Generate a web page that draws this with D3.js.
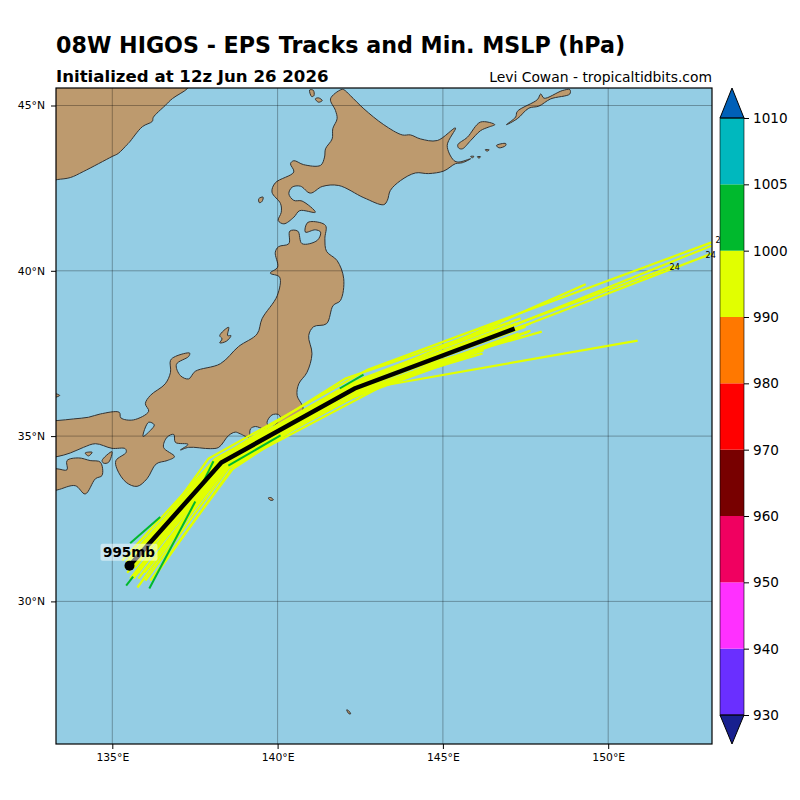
<!DOCTYPE html>
<html>
<head>
<meta charset="utf-8">
<script src="https://d3js.org/d3.v7.min.js"></script>
<style>
  body { margin: 0; background: #fff; }
  text { font-family: "DejaVu Sans", sans-serif; }
</style>
</head>
<body>
<div id="chart"></div>
<script>
// coastlines, lon/lat
var russia = [[137.27,45.51],[136.82,45.21],[136.60,45],[136.24,44.64],[136.21,44.52],[135.91,44.36],[135.51,43.88],[135.45,43.82],[135.18,43.55],[135,43.46],[134.12,43],[133.73,42.82],[133.34,42.76],[132.9,42.7],[132.9,45.7],[137.4,45.7]];
var hokkaido = [[141.92,45.48],[141.60,45.20],[141.75,44.85],[141.80,44.60],[141.67,44.30],[141.65,43.99],[141.45,43.69],[141.42,43.44],[141.30,43.19],[140.79,43.21],[140.49,43.33],[140.39,43.24],[140.49,42.99],[139.93,42.66],[139.83,42.38],[140.09,42.03],[140.11,41.77],[140.02,41.52],[140.19,41.42],[140.49,41.62],[140.67,41.82],[141.14,41.77],[140.74,42.11],[140.49,42.13],[140.34,42.33],[140.44,42.53],[140.69,42.56],[140.99,42.35],[141.35,42.55],[141.85,42.58],[142.61,42.21],[143.21,42],[143.32,42.13],[143.41,42.43],[143.72,42.73],[144.17,42.96],[144.57,42.94],[145.03,43.02],[145.38,43.24],[145.59,43.27],[145.84,43.39],[145.48,43.29],[145.33,43.34],[145.13,43.79],[145.38,44.32],[144.83,43.94],[144.32,43.99],[144.02,44.11],[143.77,44.11],[143.21,44.42],[142.61,44.90],[142.20,45.30],[142,45.48]];
var honshu = [[140.84,41.17],[140.89,41.44],[141.04,41.49],[141.45,41.37],[141.43,40.97],[141.48,40.59],[141.80,40.31],[142,39.76],[141.90,39.10],[141.68,38.95],[141.48,38.40],[141.09,38.31],[140.94,38.04],[141.04,37.49],[140.89,36.93],[140.64,36.58],[140.59,36.23],[140.77,35.83],[140.54,35.53],[140.18,35.20],[139.93,35.11],[139.87,35.27],[140.09,35.53],[140.03,35.65],[139.83,35.64],[139.68,35.42],[139.73,35.27],[139.58,35.22],[139.33,35.29],[139.18,35.22],[139.13,34.97],[138.87,35.07],[138.72,35.12],[138.52,35.02],[138.22,34.66],[137.97,34.62],[137.31,34.66],[137.06,34.58],[137.29,34.75],[136.91,34.81],[136.86,35.05],[136.66,34.97],[136.55,34.66],[136.88,34.38],[136.66,34.26],[136.33,34.16],[136.05,33.71],[135.75,33.48],[135.42,33.60],[135.14,34.01],[135.11,34.26],[135.42,34.51],[135.39,34.62],[134.99,34.63],[134.49,34.77],[134.13,34.66],[133.73,34.49],[133.33,34.38],[132.9,34.35],[132.9,35.45],[133.33,35.47],[133.83,35.52],[134.28,35.57],[134.64,35.67],[135.21,35.72],[135.26,35.55],[135.64,35.49],[136.10,35.75],[136,35.98],[136.15,36.23],[136.60,36.58],[136.76,36.93],[136.76,37.29],[136.91,37.41],[137.34,37.51],[137.31,37.41],[136.94,37.17],[137.06,36.83],[137.31,36.73],[137.51,36.96],[138.27,37.19],[138.82,37.71],[139.38,38.09],[139.53,38.55],[139.99,39.25],[140.06,39.81],[139.78,39.93],[140,40.11],[139.93,40.56],[140.03,40.73],[140.34,40.82],[140.37,41.20],[140.61,41.20],[140.74,40.82],[141.20,40.92],[141.30,41.17],[141.14,41.24]];
var shikoku = [[132.9,34.0],[133.33,34.01],[133.63,33.98],[133.63,34.26],[133.98,34.34],[134.33,34.26],[134.64,34.21],[134.69,33.81],[134.49,33.71],[134.18,33.25],[133.88,33.50],[133.33,33.37],[132.9,33.3]];
var kunashir = [[145.45,43.81],[145.74,44.04],[146.14,44.50],[146.57,44.42],[146.39,44.35],[146.14,44.24],[145.84,43.94],[145.59,43.69],[145.48,43.71]];
var iturup = [[146.92,44.42],[147.20,44.65],[147.25,44.82],[147.86,45.18],[147.96,45.35],[148.06,45.22],[148.61,45.45],[148.84,45.48],[148.84,45.35],[148.26,45.20],[147.90,44.98],[147.60,44.92],[147.25,44.60]];
var smallIslands = [
  [[140.97,45.47],[141.08,45.46],[141.10,45.30],[141.03,45.27]],
  [[141.14,45.20],[141.24,45.23],[141.35,45.15],[141.24,45.10]],
  [[139.43,42.18],[139.56,42.23],[139.53,42.10],[139.45,42.06]],
  [[146.62,43.79],[146.90,43.85],[146.90,43.79],[146.70,43.72]],
  [[145.84,43.46],[145.94,43.46],[145.89,43.42]],
  [[146.04,43.45],[146.14,43.45],[146.09,43.41]],
  [[146.28,43.66],[146.40,43.66],[146.34,43.62]],
  [[138.25,38.04],[138.52,38.29],[138.49,38.04],[138.59,38.04],[138.45,37.87],[138.25,37.82],[138.32,37.94]],
  [[134.69,34.26],[134.99,34.53],[134.89,34.21],[134.74,34.18]],
  [[134.18,34.49],[134.39,34.51],[134.28,34.40]],
  [[133.2,36.29],[133.41,36.23],[133.2,36.17]],
  [[139.72,33.13],[139.80,33.14],[139.87,33.07],[139.78,33.06]],
  [[142.09,26.72],[142.14,26.70],[142.21,26.60],[142.16,26.60]]
];
var lakes = [[[136.10,35.42],[136.27,35.34],[136.15,35.17],[135.93,34.99]]];

// ensemble members
var yellowTracks = [
  [[135.48,30.93],[137.91,34.32],[142.72,37.01],[153.13,40.86]],
  [[135.54,31.24],[138.09,34.26],[142.36,36.53],[146.14,38.19],[149.32,39.59]],
  [[135.85,30.78],[138.42,34.11],[142.51,36.53],[146.74,38.19],[153.13,40.76]],
  [[136.00,30.63],[138.51,34.02],[142.20,36.32],[153.13,40.52]],
  [[136.30,30.78],[138.57,33.96],[142.05,36.23],[147.35,38.44],[152.01,40.16]],
  [[136.15,30.63],[138.72,34.11],[142.81,36.68],[147.99,38.16]],
  [[135.76,30.42],[138.33,33.96],[143.20,36.53],[150.89,37.89]],
  [[135.54,30.69],[138.21,34.08],[142.96,36.53],[146.20,37.50]],
  [[135.61,31.18],[138.21,34.32],[142.20,36.59],[147.65,38.41]],
  [[135.45,30.87],[138.39,34.08],[142.45,36.32],[147.59,38.16]],
  [[135.70,31.05],[138.30,34.38],[142.05,36.74],[147.35,38.56]],
  [[135.79,30.87],[138.45,34.26],[142.66,36.38],[146.74,37.89]],
  [[135.48,31.30],[138.03,34.11],[142.57,36.74],[147.05,38.44]],
  [[135.64,30.69],[138.18,33.96],[142.20,36.14],[146.23,37.60]],
  [[135.64,31.00],[138.39,34.29],[142.39,36.59],[147.23,38.41]],
  [[135.42,31.18],[138.21,34.17],[142.26,36.29],[147.29,38.10]],
  [[135.73,30.93],[138.51,34.20],[142.51,36.50],[147.50,38.31]],
  [[135.30,31.24],[138.12,34.32],[142.14,36.50],[147.05,38.35]],
  [[135.79,30.69],[138.45,34.08],[142.39,36.26],[147.65,38.19]],
  [[135.97,30.87],[138.63,34.26],[142.57,36.32],[147.35,38.05]],
  [[135.39,31.00],[138.24,34.26],[142.20,36.44],[146.90,38.22]],
  [[135.67,30.78],[138.33,34.02],[142.45,36.62],[146.74,38.44]]
];
var greenTracks = [
  [[136.12,30.39],[137.51,33.02]],
  [[135.42,30.48],[135.63,30.75]],
  [[135.54,31.76],[136.45,32.55]],
  [[138.51,34.11],[140.09,35.02]],
  [[141.88,36.44],[142.60,36.86]],
  [[137.76,33.63],[138.06,34.24]]
];
var meanTrack = [[135.52,31.08],[138.30,34.20],[142.33,36.44],[147.17,38.25]];
var hourLabels = ["24", "24", "24"];
var hourLons = [152.01, 153.10, 153.40];
var hourLats = [40.10, 40.49, 40.92];
var minLabel = "995mb";

var lonTicks = [135, 140, 145, 150];
var latTicks = [30, 35, 40, 45];
var cbarLevels = [930, 940, 950, 960, 970, 980, 990, 1000, 1005, 1010];
var cbarColors = ["#6a2fff", "#ff30ff", "#f00060", "#780000", "#ff0000", "#ff7800", "#e1ff00", "#00b92d", "#00b8be"];
var underColor = "#18208f";
var overColor = "#0060b8";

var svgWidth = 800;
var svgHeight = 800;
var plot = { left: 56, right: 712, top: 88, bottom: 744 };

var svg = d3.select("#chart")
  .append("svg")
  .attr("width", svgWidth)
  .attr("height", svgHeight);

var xScale = d3.scaleLinear().domain([135, 150]).range([112.3, 608.2]);
var yScale = d3.scaleLinear().domain([30, 45]).range([601.4, 105.5]);

svg.append("clipPath").attr("id", "plotClip")
  .append("rect")
  .attr("x", plot.left)
  .attr("y", plot.top)
  .attr("width", plot.right - plot.left)
  .attr("height", plot.bottom - plot.top);

var mapGroup = svg.append("g").attr("clip-path", "url(#plotClip)");

mapGroup.append("rect")
  .attr("x", plot.left)
  .attr("y", plot.top)
  .attr("width", plot.right - plot.left)
  .attr("height", plot.bottom - plot.top)
  .attr("fill", "#94cde4");

// rounded coastlines
var coastLine = d3.line()
  .x(d => xScale(d[0]))
  .y(d => yScale(d[1]))
  .curve(d3.curveCatmullRomClosed.alpha(0.5));

var trackLine = d3.line()
  .x(d => xScale(d[0]))
  .y(d => yScale(d[1]));

var landShapes = [russia, hokkaido, honshu, shikoku, kunashir, iturup].concat(smallIslands);

mapGroup.selectAll("path.land")
  .data(landShapes)
  .enter()
  .append("path")
  .attr("class", "land")
  .attr("d", coastLine)
  .attr("fill", "#bd9a6e")
  .attr("stroke", "#333")
  .attr("stroke-width", 1);

mapGroup.selectAll("path.lake")
  .data(lakes)
  .enter()
  .append("path")
  .attr("class", "lake")
  .attr("d", coastLine)
  .attr("fill", "#94cde4")
  .attr("stroke", "#333")
  .attr("stroke-width", 1);

// graticule
mapGroup.selectAll("line.lonGrid")
  .data(lonTicks)
  .enter()
  .append("line")
  .attr("class", "lonGrid")
  .attr("x1", d => xScale(d))
  .attr("x2", d => xScale(d))
  .attr("y1", plot.top)
  .attr("y2", plot.bottom)
  .attr("stroke", "#000")
  .attr("stroke-opacity", 0.3);

mapGroup.selectAll("line.latGrid")
  .data(latTicks)
  .enter()
  .append("line")
  .attr("class", "latGrid")
  .attr("x1", plot.left)
  .attr("x2", plot.right)
  .attr("y1", d => yScale(d))
  .attr("y2", d => yScale(d))
  .attr("stroke", "#000")
  .attr("stroke-opacity", 0.3);

// tracks
mapGroup.selectAll("path.yellow")
  .data(yellowTracks)
  .enter()
  .append("path")
  .attr("class", "yellow")
  .attr("d", trackLine)
  .attr("fill", "none")
  .attr("stroke", "#e1ff00")
  .attr("stroke-width", 2.2);

mapGroup.selectAll("path.green")
  .data(greenTracks)
  .enter()
  .append("path")
  .attr("class", "green")
  .attr("d", trackLine)
  .attr("fill", "none")
  .attr("stroke", "#00b92d")
  .attr("stroke-width", 2);

mapGroup.append("path")
  .datum(meanTrack)
  .attr("d", trackLine)
  .attr("fill", "none")
  .attr("stroke", "#000")
  .attr("stroke-width", 4.5);

// hour labels run past the map edge, so not clipped
svg.selectAll("text.hour")
  .data(hourLabels)
  .enter()
  .append("text")
  .attr("class", "hour")
  .attr("x", (d, i) => xScale(hourLons[i]))
  .attr("y", (d, i) => yScale(hourLats[i]) + 3)
  .attr("text-anchor", "middle")
  .style("font-size", "8px")
  .attr("fill", "#000")
  .text(d => d);

var start = meanTrack[0];

// label box sits over the start of the black line
var labelBox = svg.append("rect")
  .attr("x", xScale(start[0]) - 29)
  .attr("y", yScale(start[1]) - 22)
  .attr("width", 57)
  .attr("height", 17)
  .attr("rx", 2)
  .attr("fill", "#fff")
  .attr("fill-opacity", 0.5);

svg.append("circle")
  .attr("cx", xScale(start[0]))
  .attr("cy", yScale(start[1]))
  .attr("r", 5)
  .attr("fill", "#000");

svg.append("text")
  .attr("x", xScale(start[0]) - 0.5)
  .attr("y", yScale(start[1]) - 9)
  .attr("text-anchor", "middle")
  .style("font-size", "13.5px")
  .style("font-weight", "bold")
  .text(minLabel);

svg.append("rect")
  .attr("x", plot.left)
  .attr("y", plot.top)
  .attr("width", plot.right - plot.left)
  .attr("height", plot.bottom - plot.top)
  .attr("fill", "none")
  .attr("stroke", "#000")
  .attr("stroke-width", 1.2);

// axes
var bottomAxis = d3.axisBottom(xScale)
  .tickValues(lonTicks)
  .tickSize(5)
  .tickPadding(4)
  .tickFormat(d => d + "°E");

var leftAxis = d3.axisLeft(yScale)
  .tickValues(latTicks)
  .tickSize(5)
  .tickPadding(6)
  .tickFormat(d => d + "°N");

var xAxisGroup = svg.append("g")
  .attr("transform", `translate(0, ${plot.bottom})`)
  .call(bottomAxis);

var yAxisGroup = svg.append("g")
  .attr("transform", `translate(${plot.left}, 0)`)
  .call(leftAxis);

[xAxisGroup, yAxisGroup].forEach(function(g) {
  g.select(".domain").remove();
  g.selectAll("text")
    .style("font-size", "10.8px")
    .style("font-family", '"DejaVu Sans", sans-serif');
});

// colorbar
var cbar = { left: 720, right: 744, top: 88, bottom: 744 };
var cbarScale = d3.scalePoint().domain(cbarLevels).range([715, 118]);

svg.selectAll("rect.cbar")
  .data(cbarColors)
  .enter()
  .append("rect")
  .attr("class", "cbar")
  .attr("x", cbar.left)
  .attr("width", cbar.right - cbar.left)
  .attr("y", (d, i) => cbarScale(cbarLevels[i + 1]))
  .attr("height", (d, i) => cbarScale(cbarLevels[i]) - cbarScale(cbarLevels[i + 1]))
  .attr("fill", d => d);

var cbarMid = (cbar.left + cbar.right) / 2;

svg.append("path")
  .attr("d", `M${cbar.left},${cbarScale(1010)}L${cbarMid},${cbar.top}L${cbar.right},${cbarScale(1010)}Z`)
  .attr("fill", overColor)
  .attr("stroke", "#000");

svg.append("path")
  .attr("d", `M${cbar.left},${cbarScale(930)}L${cbarMid},${cbar.bottom}L${cbar.right},${cbarScale(930)}Z`)
  .attr("fill", underColor)
  .attr("stroke", "#000");

svg.append("rect")
  .attr("x", cbar.left)
  .attr("y", cbarScale(1010))
  .attr("width", cbar.right - cbar.left)
  .attr("height", cbarScale(930) - cbarScale(1010))
  .attr("fill", "none")
  .attr("stroke", "#000")
  .attr("stroke-opacity", 0.6);

var cbarAxisGroup = svg.append("g")
  .attr("transform", `translate(${cbar.right}, 0)`)
  .call(d3.axisRight(cbarScale).tickSize(5).tickPadding(4));

cbarAxisGroup.select(".domain").remove();
cbarAxisGroup.selectAll("text")
  .style("font-size", "13.6px")
  .style("font-family", '"DejaVu Sans", sans-serif');

// titles
svg.append("text")
  .attr("x", 56)
  .attr("y", 53)
  .style("font-size", "22.2px")
  .style("font-weight", "bold")
  .text("08W HIGOS - EPS Tracks and Min. MSLP (hPa)");

svg.append("text")
  .attr("x", 56)
  .attr("y", 82)
  .style("font-size", "16.6px")
  .style("font-weight", "bold")
  .text("Initialized at 12z Jun 26 2026");

svg.append("text")
  .attr("x", 712)
  .attr("y", 82)
  .attr("text-anchor", "end")
  .style("font-size", "13.9px")
  .text("Levi Cowan - tropicaltidbits.com");
</script>
</body>
</html>
